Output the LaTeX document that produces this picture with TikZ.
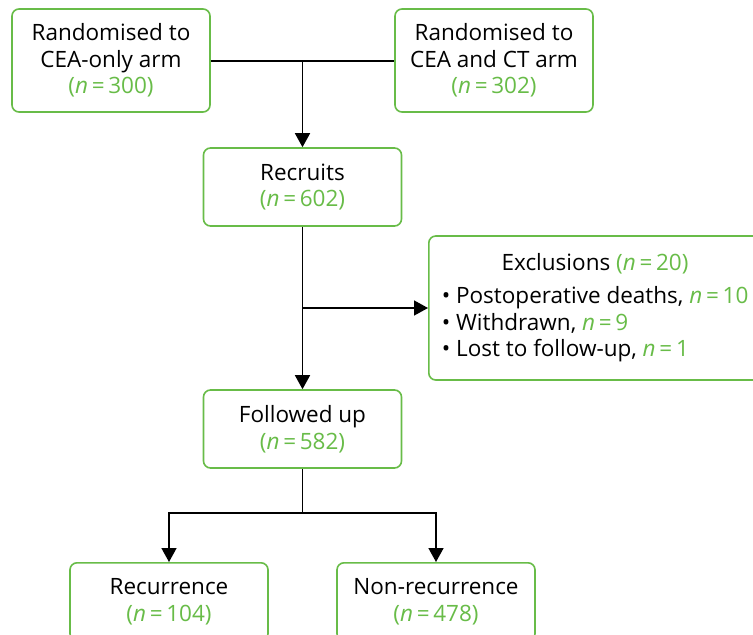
\documentclass[tikz,border=0pt]{standalone}
\usepackage{fontspec}
\setmainfont{Open Sans}
\usetikzlibrary{arrows.meta}

\definecolor{boxgreen}{RGB}{104,188,72}
\newcommand{\nval}[1]{\textcolor{boxgreen}{\textit{n}\,=\,#1}}
\newcommand{\ncnt}[1]{\textcolor{boxgreen}{(\textit{n}\,=\,#1)}}

\begin{document}
\begin{tikzpicture}[x=1pt, y=-1pt,
  box/.style={draw=boxgreen, line width=1.6pt, rounded corners=7pt, fill=white,
    minimum width=198pt, minimum height=78pt, align=center, inner sep=0pt,
    font=\fontsize{22.5}{26.5}\selectfont},
  link/.style={line width=1.6pt},
  arr/.style={line width=1.6pt, -{Triangle[length=14pt,width=15pt]}}]
\useasboundingbox (0,0) rectangle (753,635);
\clip (0,0) rectangle (753,635);

% top row
\node[box, minimum height=103pt] (cea) at (111,60.5) {Randomised to\\CEA-only arm\\\ncnt{300}};
\node[box, minimum height=103pt] (ct) at (494,60.5) {Randomised to\\CEA and CT arm\\\ncnt{302}};

\node[box] (recruits) at (302.5,187) {Recruits\\\ncnt{602}};

\node[box, anchor=west, inner xsep=13pt, minimum height=144pt] (excl) at (428,308)
  {\begin{tabular}{@{}l@{}}
   \multicolumn{1}{@{}c@{}}{Exclusions \ncnt{20}}\\[7pt]
   \textbullet\ Postoperative deaths, \nval{10}\\
   \textbullet\ Withdrawn, \nval{9}\\
   \textbullet\ Lost to follow-up, \nval{1}
   \end{tabular}};

\node[box] (followed) at (302.5,429) {Followed up\\\ncnt{582}};

\node[box, anchor=north] (recur) at (169,562) {Recurrence\\\ncnt{104}};
\node[box, anchor=north] (nonrec) at (436,562) {Non-recurrence\\\ncnt{478}};

% connectors
\coordinate (j1) at (302.5,61);
\coordinate (j2) at (recruits.south |- excl.west);
\coordinate (j3) at (302.5,513);

\path[draw,link] (cea.east |- j1) -- (ct.west |- j1);
\path[draw,arr] (j1) -- (recruits.north);
\path[draw,arr] (recruits.south) -- (followed.north);
\path[draw,arr] (j2) -- (excl.west);
\path[draw,link] (followed.south) -- (j3);
\path[draw,arr] (j3) -| (recur.north);
\path[draw,arr] (j3) -| (nonrec.north);
\end{tikzpicture}
\end{document}
